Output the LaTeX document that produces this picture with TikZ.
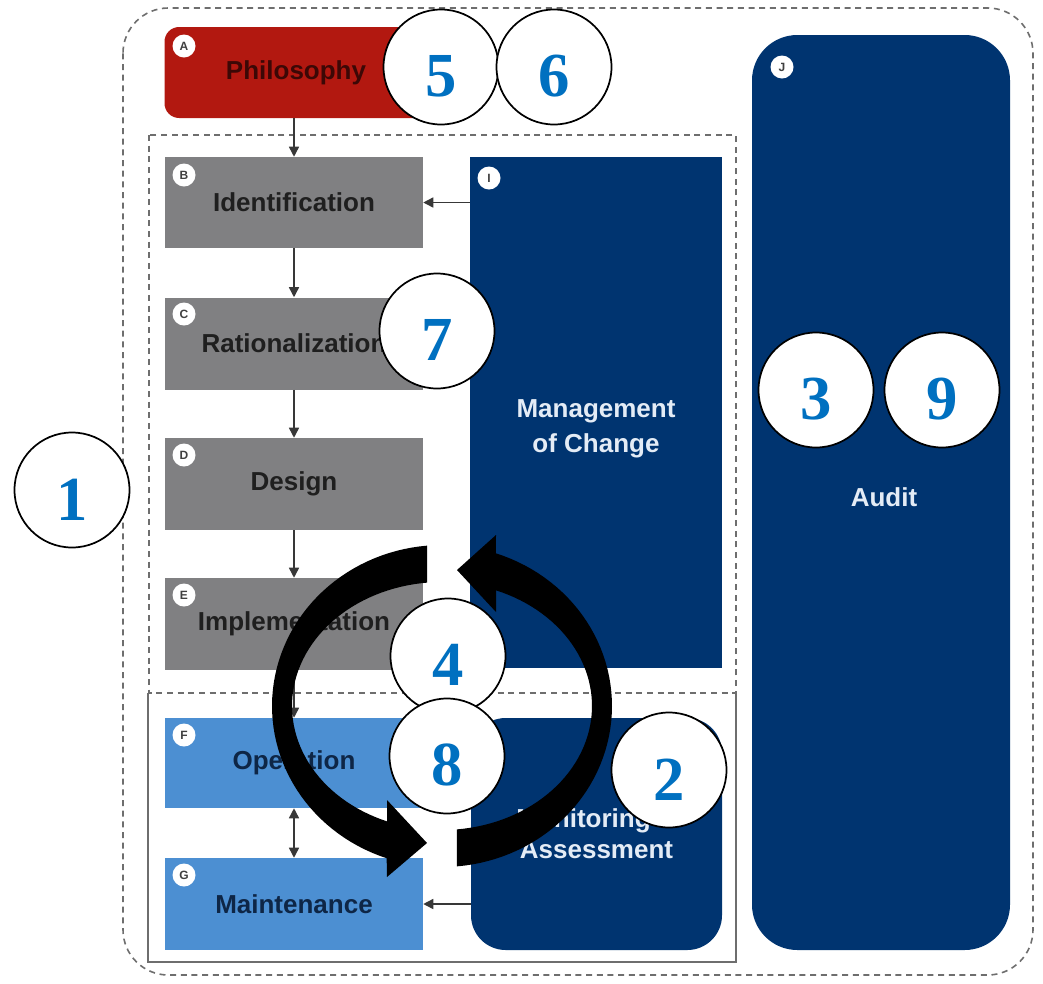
\documentclass[tikz,border=0pt]{standalone}
\usepackage{fontspec}
\setmainfont{Liberation Sans}
\newfontfamily\numfont{Liberation Serif}
\usetikzlibrary{arrows.meta}

\definecolor{philred}{RGB}{178,24,16}
\definecolor{philtext}{RGB}{60,8,6}
\definecolor{stepgray}{RGB}{128,128,130}
\definecolor{opblue}{RGB}{76,143,210}
\definecolor{navy}{RGB}{0,52,112}
\definecolor{numblue}{RGB}{0,112,192}
\definecolor{lighttext}{RGB}{228,236,246}
\definecolor{frame}{RGB}{110,110,110}

\begin{document}
\begin{tikzpicture}[x=0.75pt,y=-0.75pt,
  boxfont/.style={font=\fontsize{19.5}{25}\selectfont\bfseries},
  stepbox/.style={boxfont, rectangle, inner sep=0pt, minimum width=258*0.75, fill=stepgray, text=black!88},
  opbox/.style={stepbox, fill=opblue, text={rgb,255:red,14;green,38;blue,70}},
  navybox/.style={boxfont, rectangle, inner sep=0pt, fill=navy, text=lighttext, align=center},
  tag/.style={circle, fill=white, inner sep=0pt, minimum size=23*0.75, text=black!75,
    font=\fontsize{9}{9}\selectfont\bfseries},
  numtext/.style={font=\numfont\fontsize{47}{47}\selectfont\bfseries, text=numblue, inner sep=0pt},
  numcirc/.style={circle, draw=black, line width=1.3pt, fill=white, inner sep=0pt, minimum size=115*0.75},
  flow/.style={draw=black!78, line width=1.1pt, -{Triangle[length=7.5pt,width=7.5pt]}},
  frameline/.style={draw=frame, line width=1.2pt, dash pattern=on 4.5pt off 3.5pt},
]
\useasboundingbox (0,0) rectangle (1043,983);

% outer frame and grouping outlines
\draw[frameline, rounded corners=34pt] (123,8) rectangle (1033,975);
\draw[draw=frame, line width=1.1pt] (148,693) -- (148,962) -- (736,962) -- (736,693);
\draw[frameline] (149,135) rectangle (736,693);

% process steps
\node[stepbox, fill=philred, text=philtext, rounded corners=11pt, minimum width=263*0.75,
      minimum height=91*0.75] (A) at (296,72.5) {Philosophy};
\node[stepbox, minimum height=91*0.75] (B) at (294,202.5) {Identification};
\node[stepbox, minimum height=92*0.75] (C) at (294,343.5) {Rationalization};
\node[stepbox, minimum height=92*0.75] (D) at (294,484) {Design};
\node[stepbox, minimum height=92*0.75] (E) at (294,624) {Implementation};
\node[opbox, minimum height=90*0.75] (F) at (294,763) {Operation};
\node[opbox, minimum height=92*0.75] (G) at (294,904) {Maintenance};

% management blocks
\node[navybox, minimum width=252*0.75, minimum height=511*0.75] (I) at (596,412.5) {};
\node[boxfont, text=lighttext, align=center, font=\fontsize{19.5}{26}\selectfont\bfseries]
      (Itext) at (596,429) {Management\\of Change};
\node[navybox, rounded corners=26pt, minimum width=251*0.75, minimum height=232*0.75,
      font=\fontsize{19.5}{23.5}\selectfont\bfseries] (H)
      at (596.5,834) {Monitoring \&\\Assessment};
\node[navybox, rounded corners=34pt, minimum width=258*0.75, minimum height=915*0.75] (J)
      at (881,492.5) {};
\node[boxfont, text=lighttext] (Jtext) at (884,497) {Audit};

% corner tags
\node[tag] (tA) at (184,46) {A};
\node[tag] (tB) at (184,175) {B};
\node[tag] (tC) at (184,314) {C};
\node[tag] (tD) at (184,455) {D};
\node[tag] (tE) at (184,595) {E};
\node[tag] (tF) at (184,735) {F};
\node[tag] (tG) at (184,875) {G};
\node[tag] (tI) at (489,178) {I};
\node[tag] (tJ) at (782,67) {J};

% connectors
\draw[flow] (B.north |- A.south) -- (B.north);
\draw[flow] (B) -- (C);
\draw[flow] (C) -- (D);
\draw[flow] (D) -- (E);
\draw[flow] (E) -- (F);
\draw[flow, {Triangle[length=7.5pt,width=7.5pt]}-{Triangle[length=7.5pt,width=7.5pt]}] (F) -- (G);
\draw[flow] (B.east -| I.west) -- (B.east);
\draw[flow] (G.east -| H.west) -- (G.east);
\draw[flow] (H.north) -- (I.south);

% circular cycle arrows
\fill[black] plot[domain=265:109,samples=60] ({442+170*cos(\x)},{706+161*sin(\x)})
  -- (387,877) -- (427,843) -- (387,800)
  -- plot[domain=111.5:264.3,samples=60] ({442+150*cos(\x)},{706+124*sin(\x)}) -- cycle;
\fill[black] plot[domain=85:-71.5,samples=60] ({442+170*cos(\x)},{706+161*sin(\x)})
  -- (496,535) -- (457,570) -- (496,612)
  -- plot[domain=-68.9:84.3,samples=60] ({442+150*cos(\x)},{706+124*sin(\x)}) -- cycle;

% numbered markers
\node[numcirc, label={[numtext, yshift=-7pt]center:1}] (n1) at (72,490) {};
\node[numcirc, label={[numtext, yshift=-7pt]center:5}] (n5) at (441,67) {};
\node[numcirc, label={[numtext, yshift=-7pt]center:6}] (n6) at (554,67) {};
\node[numcirc, label={[numtext, yshift=-7pt]center:7}] (n7) at (437,331) {};
\node[numcirc, label={[numtext, yshift=-7pt]center:3}] (n3) at (816,390) {};
\node[numcirc, label={[numtext, yshift=-7pt]center:9}] (n9) at (942,390) {};
\node[numcirc, label={[numtext, yshift=-7pt]center:4}] (n4) at (448,656) {};
\node[numcirc, label={[numtext, yshift=-7pt]center:8}] (n8) at (447,756) {};
\node[numcirc, label={[numtext, yshift=-7pt]center:2}] (n2) at (669,770) {};
\end{tikzpicture}
\end{document}
